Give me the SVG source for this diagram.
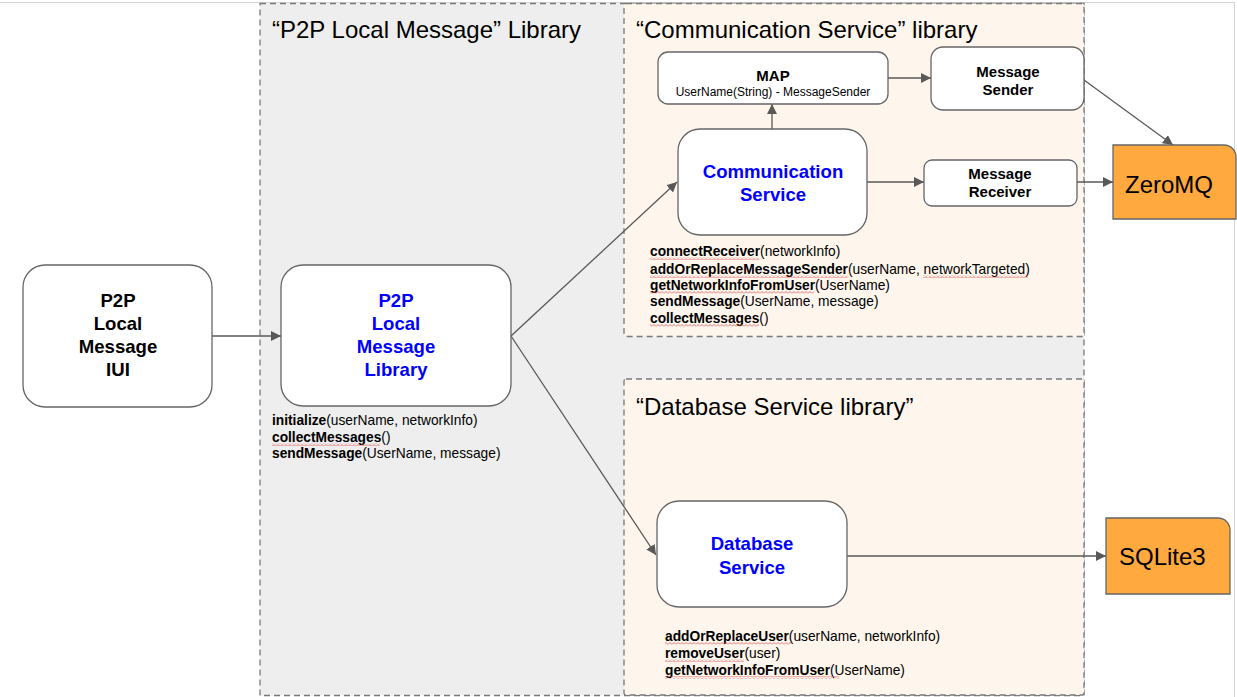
<svg xmlns="http://www.w3.org/2000/svg" width="1237" height="697" viewBox="0 0 1237 697">
<style>
.cont{stroke:#7a7a7a;stroke-width:1.3;stroke-dasharray:6 4}
.box{fill:#fff;stroke:#666;stroke-width:1.3}
.ext{fill:#ffa93e;stroke:#666;stroke-width:1.3}
.t{font-family:"Liberation Sans",Arial,sans-serif;fill:#000}
.title{font-size:24px}
.lbl{font-size:15px;font-weight:bold;text-anchor:middle}
.big{font-size:18.6px;font-weight:bold;text-anchor:middle}
.blue{fill:#0000ff}
.m{font-size:13.75px}
.b{font-weight:bold}
.ext-t{font-size:24px}
.conn line{stroke:#595959;stroke-width:1.3;marker-end:url(#ah)}
.sq{fill:url(#wave)}
</style>
<defs>
<marker id="ah" viewBox="0 0 10 10" refX="10" refY="5" markerWidth="10" markerHeight="10" markerUnits="userSpaceOnUse" orient="auto">
<path d="M0,0 L10,5 L0,10 z" fill="#595959"/>
</marker>
<pattern id="wave" width="4" height="3" patternUnits="userSpaceOnUse">
<path d="M0,2.5 L2,0.5 L4,2.5" fill="none" stroke="#e05050" stroke-width="0.8"/>
</pattern>
</defs>
<rect width="1237" height="697" fill="#fff"/>
<path d="M0,2.5 H1234.5 V697" fill="none" stroke="#d4d4d4" stroke-width="1"/>

<g id="p2p-library-container">
<rect class="cont" x="260" y="3.5" width="824" height="692" fill="#eeeeee"/>
<text class="t title" x="272" y="38">“P2P Local Message” Library</text>
</g>
<g id="communication-container">
<rect class="cont" x="624" y="3.5" width="460" height="333" rx="2" fill="#fef5ec"/>
<text class="t title" x="636" y="38">“Communication Service” library</text>
</g>
<g id="database-container">
<rect class="cont" x="624" y="379" width="460" height="316" rx="2" fill="#fef5ec"/>
<text class="t title" x="636" y="415">“Database Service library”</text>
</g>

<g id="conn">
<g class="conn">
<line x1="212" y1="336" x2="281" y2="336"/>
<line x1="511" y1="336" x2="677" y2="182"/>
<line x1="511" y1="336" x2="656" y2="555"/>
<line x1="772" y1="129" x2="772" y2="104"/>
<line x1="888" y1="78" x2="931" y2="78"/>
<line x1="867" y1="182" x2="924" y2="182"/>
<line x1="1077" y1="182" x2="1113" y2="182"/>
<line x1="1084" y1="80" x2="1173" y2="145"/>
<line x1="847" y1="556" x2="1106" y2="556"/>
</g>
</g>

<g id="p2p-ui">
<rect class="box" x="23" y="265" width="189" height="142" rx="22"/>
<text class="t big" x="118" y="307">P2P</text>
<text class="t big" x="118" y="330">Local</text>
<text class="t big" x="118" y="353">Message</text>
<text class="t big" x="118" y="376">IUI</text>
</g>

<g id="p2p-lib">
<rect class="box" x="281" y="265" width="230" height="141" rx="22"/>
<text class="t big blue" x="396" y="307">P2P</text>
<text class="t big blue" x="396" y="330">Local</text>
<text class="t big blue" x="396" y="353">Message</text>
<text class="t big blue" x="396" y="376">Library</text>
</g>
<g id="p2p-lib-methods">
<text class="t m" x="272" y="425"><tspan class="b">initialize</tspan>(userName, networkInfo)</text>
<text class="t m" x="272" y="442"><tspan class="b">collectMessages</tspan>()</text>
<text class="t m" x="272" y="458"><tspan class="b">sendMessage</tspan>(UserName, message)</text>
<rect class="sq" x="272" y="443" width="108" height="3"/>
</g>

<g id="map">
<rect class="box" x="658" y="52" width="230" height="52" rx="10"/>
<text class="t lbl" x="773" y="81">MAP</text>
<text class="t" x="773" y="96" font-size="12" text-anchor="middle">UserName(String) - MessageSender</text>
</g>
<g id="message-sender">
<rect class="box" x="931" y="47" width="153" height="63" rx="12"/>
<text class="t lbl" x="1008" y="77">Message</text>
<text class="t lbl" x="1008" y="95">Sender</text>
</g>
<g id="communication-service">
<rect class="box" x="678" y="129" width="189" height="106" rx="22"/>
<text class="t big blue" x="773" y="178">Communication</text>
<text class="t big blue" x="773" y="201">Service</text>
</g>
<g id="message-receiver">
<rect class="box" x="924" y="160" width="153" height="46" rx="8"/>
<text class="t lbl" x="1000" y="179">Message</text>
<text class="t lbl" x="1000" y="197">Receiver</text>
</g>
<g id="comm-methods">
<text class="t m" x="650" y="256"><tspan class="b">connectReceiver</tspan>(networkInfo)</text>
<text class="t m" x="650" y="274"><tspan class="b">addOrReplaceMessageSender</tspan>(userName, networkTargeted)</text>
<text class="t m" x="650" y="290"><tspan class="b">getNetworkInfoFromUser</tspan>(UserName)</text>
<text class="t m" x="650" y="306"><tspan class="b">sendMessage</tspan>(UserName, message)</text>
<text class="t m" x="650" y="323"><tspan class="b">collectMessages</tspan>()</text>
<rect class="sq" x="650" y="257" width="109" height="3"/>
<rect class="sq" x="650" y="275" width="198" height="3"/>
<rect class="sq" x="923" y="275" width="105" height="3"/>
<rect class="sq" x="650" y="291" width="164" height="3"/>
<rect class="sq" x="650" y="324" width="109" height="3"/>
</g>

<g id="zeromq">
<path class="ext" d="M1113,145 H1224 A12,12 0 0 1 1236,157 V219 H1113 Z"/>
<text class="t ext-t" x="1125" y="193">ZeroMQ</text>
</g>

<g id="database-service">
<rect class="box" x="657" y="501" width="190" height="106" rx="22"/>
<text class="t big blue" x="752" y="550">Database</text>
<text class="t big blue" x="752" y="574">Service</text>
</g>
<g id="db-methods">
<text class="t m" x="665" y="641"><tspan class="b">addOrReplaceUser</tspan>(userName, networkInfo)</text>
<text class="t m" x="665" y="658"><tspan class="b">removeUser</tspan>(user)</text>
<text class="t m" x="665" y="675"><tspan class="b">getNetworkInfoFromUser</tspan>(UserName)</text>
<rect class="sq" x="665" y="642" width="126" height="3"/>
<rect class="sq" x="665" y="659" width="79" height="3"/>
<rect class="sq" x="665" y="676" width="174" height="3"/>
</g>

<g id="sqlite3">
<path class="ext" d="M1106,518 H1218 A12,12 0 0 1 1230,530 V594 H1106 Z"/>
<text class="t ext-t" x="1119" y="565">SQLite3</text>
</g>
</svg>
